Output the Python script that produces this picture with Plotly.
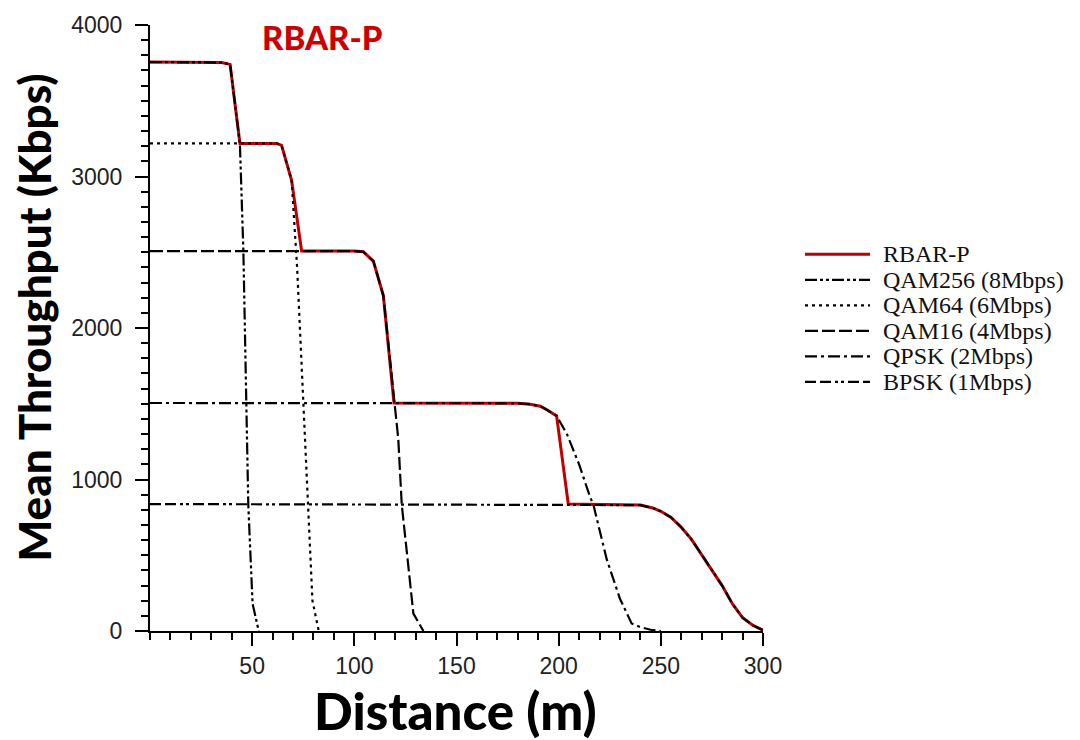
import plotly.graph_objects as go

# Mean throughput vs distance: adaptive RBAR-P against fixed modulation schemes
dist_rbar = [0, 35, 39.2, 44, 62, 64.4, 69.3, 74.2, 100, 104.4, 109.3, 114.2, 119.4,
             180, 186, 191, 194, 199, 204.7, 230, 240, 246, 250, 255, 260, 265, 270,
             275, 280, 285, 290, 295, 300]
tp_rbar = [3755, 3752, 3740, 3218, 3218, 3205, 2975, 2508, 2508, 2503, 2442, 2214, 1505,
           1503, 1497, 1484, 1462, 1420, 838, 836, 831, 812, 790, 750, 685, 605, 505,
           405, 300, 180, 88, 38, 5]

dist_qam256 = [0, 35, 39.2, 44, 45.7, 47, 48.1, 50.2, 53.2]
tp_qam256 = [3755, 3752, 3740, 3215, 2508, 1505, 835, 180, 0]

dist_qam64 = [0, 62, 64.4, 69.3, 72, 75, 77.2, 79.5, 82.6]
tp_qam64 = [3218, 3218, 3205, 2975, 2400, 1505, 835, 200, 0]

dist_qam16 = [0, 100, 104.4, 109.3, 114.2, 119.4, 121.5, 123.2, 128.9, 133.8]
tp_qam16 = [2508, 2508, 2503, 2442, 2214, 1505, 1268, 835, 115, 0]

dist_qpsk = [0, 180, 186, 191, 194, 199, 204, 210, 215.3, 217, 223.5, 230, 235.7,
             240, 245, 250]
tp_qpsk = [1505, 1503, 1497, 1484, 1462, 1420, 1301, 1100, 887, 833, 474, 213, 50,
           25, 8, 0]

dist_bpsk = [0, 230, 240, 246, 250, 255, 260, 265, 270, 275, 280, 285, 290, 295, 300]
tp_bpsk = [838, 836, 831, 812, 790, 750, 685, 605, 505, 405, 300, 180, 88, 38, 5]

series_names = ["RBAR-P", "QAM256 (8Mbps)", "QAM64 (6Mbps)", "QAM16 (4Mbps)",
                "QPSK (2Mbps)", "BPSK (1Mbps)"]
x_tick_vals = [50, 100, 150, 200, 250, 300]
y_tick_vals = [0, 1000, 2000, 3000, 4000]

RED = "#c00000"
styles = [
    dict(color=RED, width=3, dash="solid"),
    dict(color="black", width=2.2, dash="12px,3px,3px,3px,3px,3px"),
    dict(color="black", width=2.2, dash="3px,4px"),
    dict(color="black", width=2.2, dash="13px,4px"),
    dict(color="black", width=2.2, dash="12px,4px,3px,4px"),
    dict(color="black", width=2.2, dash="11px,4px,11px,4px,3px,3px,3px,4px"),
]
xs = [dist_rbar, dist_qam256, dist_qam64, dist_qam16, dist_qpsk, dist_bpsk]
ys = [tp_rbar, tp_qam256, tp_qam64, tp_qam16, tp_qpsk, tp_bpsk]

fig = go.Figure()
for name, x, y, st in zip(series_names, xs, ys, styles):
    fig.add_trace(go.Scatter(x=x, y=y, mode="lines", name=name, line=st,
                             showlegend=False))

# plot area geometry (px) used for the hand-built legend and titles
L, R, T, B = 150, 317, 18, 109
W = 1080 - L - R
H = 740 - T - B


def px_x(p):
    return (p - L) / W


def px_y(p):
    return (740 - B - p) / H


shapes = []
annotations = []
row0, row_gap = 250, 25.8
for i, (name, st) in enumerate(zip(series_names, styles)):
    yy = px_y(row0 + i * row_gap)
    shapes.append(dict(type="line", xref="paper", yref="paper",
                       x0=px_x(805), x1=px_x(870), y0=yy, y1=yy,
                       line=dict(color=st["color"], width=st["width"], dash=st["dash"])))
    annotations.append(dict(xref="paper", yref="paper", x=px_x(881), y=yy,
                            text=name, showarrow=False, xanchor="left", yanchor="middle",
                            font=dict(family="Liberation Serif", size=24, color="#111")))

annotations.append(dict(xref="paper", yref="paper", x=px_x(455), y=px_y(711),
                        text="Distance (m)", showarrow=False,
                        xanchor="center", yanchor="middle",
                        font=dict(family="Lato", size=51, color="black", weight=900)))
annotations.append(dict(xref="paper", yref="paper", x=px_x(34), y=px_y(314),
                        text="Mean Throughput (Kbps)", showarrow=False, textangle=-90,
                        xanchor="center", yanchor="middle",
                        font=dict(family="Lato", size=44, color="black", weight=900)))
annotations.append(dict(xref="paper", yref="paper", x=px_x(322), y=px_y(30),
                        text="RBAR-P", showarrow=False,
                        xanchor="center", yanchor="middle",
                        font=dict(family="Lato", size=33, color="#cc0000", weight=900)))

tick_font = dict(family="Liberation Sans", size=23, color="#222")

fig.update_layout(
    width=1080, height=740,
    margin=dict(l=L, r=R, t=T, b=B),
    paper_bgcolor="white", plot_bgcolor="white",
    shapes=shapes, annotations=annotations,
    xaxis=dict(range=[0, 300], tickvals=x_tick_vals, ticks="outside", ticklen=13,
               tickwidth=2, tickcolor="black", showline=True, linecolor="black",
               linewidth=2, showgrid=False, zeroline=False, tickfont=tick_font,
               minor=dict(dtick=10, tick0=0, ticks="outside", ticklen=7, tickwidth=1.5,
                          tickcolor="black", showgrid=False)),
    yaxis=dict(range=[0, 4000], tickvals=y_tick_vals, ticks="outside", ticklen=13,
               tickwidth=2, tickcolor="black", showline=True, linecolor="black",
               linewidth=2, showgrid=False, zeroline=False, tickfont=tick_font,
               ticklabelstandoff=8,
               minor=dict(dtick=100, tick0=0, ticks="outside", ticklen=7, tickwidth=1.5,
                          tickcolor="black", showgrid=False)),
)

fig.write_html("out.html")
